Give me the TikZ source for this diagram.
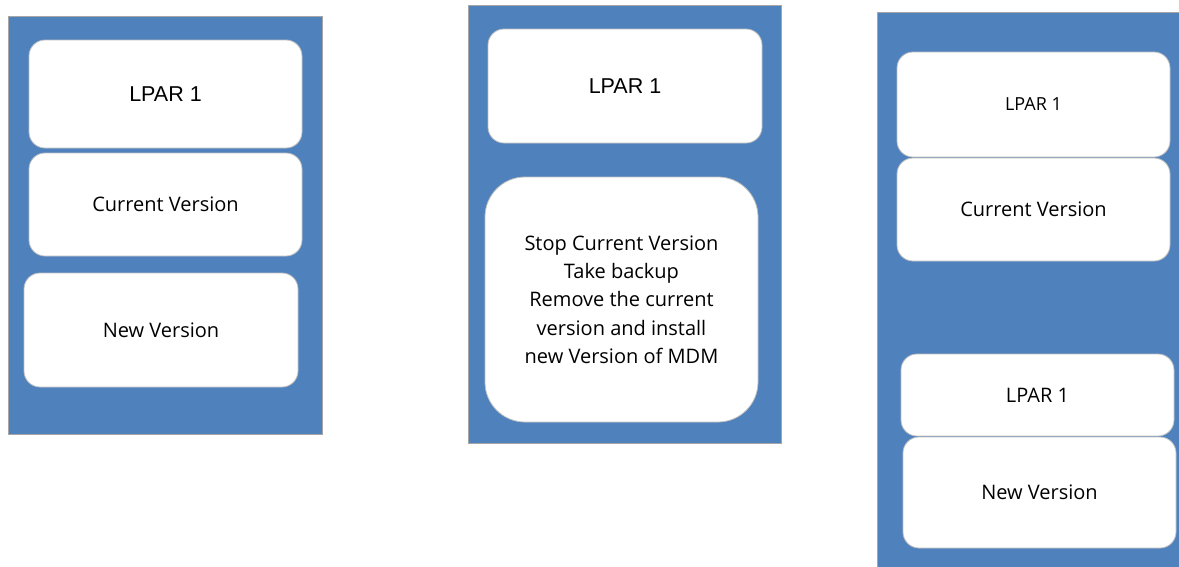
\documentclass[tikz,border=0pt]{standalone}
\usepackage{fontspec}
\setmainfont{Open Sans}
\newfontfamily\arialfont{Liberation Sans}
\definecolor{panelblue}{HTML}{4F81BD}
\definecolor{panelline}{HTML}{A6A6A6}
\definecolor{cardline}{HTML}{BFBFBF}
\tikzset{
  panel/.style={draw=panelline, line width=0.8pt, fill=panelblue, inner sep=0pt},
  card/.style={draw=cardline, line width=0.8pt, fill=white, rounded corners=16pt,
    inner sep=0pt, align=center, font=\fontsize{20}{28.3}\selectfont},
  arialtext/.style={font=\arialfont\fontsize{21.5}{25}\selectfont},
}
\begin{document}
\begin{tikzpicture}[x=1pt,y=-1pt]
\useasboundingbox (0,0) rectangle (1179,566);
\fill[white] (0,0) rectangle (1179,566);

% first stage: current and new version side by side
\node[panel, minimum width=314pt, minimum height=418pt] (p1) at (165,225) {};
\node[card, minimum width=273pt, minimum height=108pt, arialtext] (p1lpar) at (165.5,94) {LPAR 1};
\node[card, minimum width=273pt, minimum height=103pt] (p1cur) at (165.5,204.5) {Current Version};
\node[card, minimum width=274pt, minimum height=114pt] (p1new) at (161,330) {New Version};

% second stage: upgrade steps
\node[panel, minimum width=313pt, minimum height=438pt] (p2) at (624.5,224) {};
\node[card, minimum width=274pt, minimum height=114pt, arialtext] (p2lpar) at (625,86) {LPAR 1};
\node[card, minimum width=273pt, minimum height=245pt, rounded corners=40pt] (p2steps) at (621.5,299.5)
  {Stop Current Version\\Take backup\\Remove the current\\version and install\\new Version of MDM};

% third stage: two partitions
\node[panel, minimum width=320pt, minimum height=570pt] (p3) at (1037,297) {};
\node[card, minimum width=273pt, minimum height=105pt, font=\fontsize{18}{22}\selectfont] (p3lpar) at (1033.5,104.5) {LPAR 1};
\node[card, minimum width=273pt, minimum height=103pt] (p3cur) at (1033.5,209.5) {Current Version};
\node[card, minimum width=273pt, minimum height=82pt] (p3lparb) at (1037.5,395) {LPAR 1};
\node[card, minimum width=273pt, minimum height=111pt] (p3new) at (1039.5,492.5) {New Version};
\end{tikzpicture}
\end{document}
